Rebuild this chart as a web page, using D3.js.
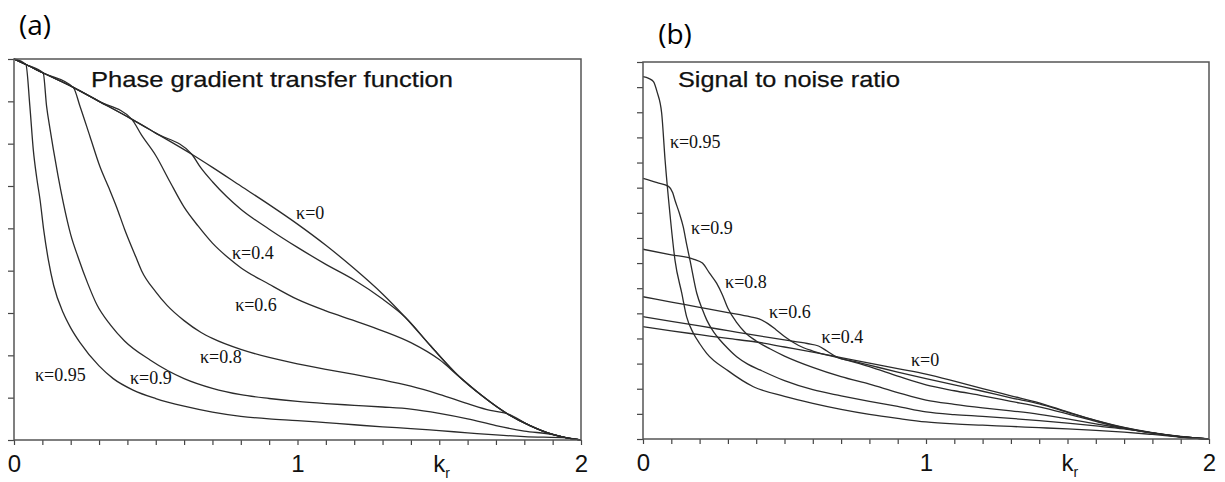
<!DOCTYPE html>
<html><head><meta charset="utf-8">
<script src="https://cdn.jsdelivr.net/npm/d3@7"></script>
<style>html,body{margin:0;padding:0;background:#fff;} svg{display:block;}</style>
</head><body><svg id="c" width="1225" height="482"></svg>
<script>
// ---------- DATA ----------
const kappas = ["0", "0.4", "0.6", "0.8", "0.9", "0.95"];
const xTickValues = d3.range(0, 21).map(i => i / 10);
const xTickLabels = ["0", "1", "2"];
const pgtfYTicks = d3.range(0, 10);
const snrYTicks = d3.range(0, 16);

// (a) Phase gradient transfer function  [k_r, value]
const pgtfK0 = [[0,9.0],[0.042,8.87],[0.103,8.67],[0.209,8.33],[0.3,8.0],[0.415,7.58],[0.5,7.25],[0.627,6.75],[0.7,6.44],[0.8,6.0],[0.9,5.56],[1.0,5.1],[1.1,4.6],[1.2,4.05],[1.3,3.45],[1.38,2.9],[1.47,2.22],[1.57,1.5],[1.65,1.05],[1.74,0.62],[1.82,0.34],[1.9,0.13],[1.95,0.05],[2.0,0]];
const pgtfK04 = [[0,9.0],[0.042,8.87],[0.103,8.67],[0.209,8.33],[0.3,8.0],[0.415,7.58],[0.5,7.25],[0.627,6.75],[0.66,6.42],[0.7,6.1],[0.75,5.75],[0.8,5.45],[0.9,4.98],[1.0,4.55],[1.1,4.15],[1.2,3.78],[1.3,3.33],[1.38,2.9],[1.47,2.22],[1.57,1.5],[1.65,1.05],[1.74,0.62],[1.82,0.34],[1.9,0.13],[1.95,0.05],[2.0,0]];
const pgtfK06 = [[0,9.0],[0.042,8.87],[0.103,8.67],[0.209,8.33],[0.3,8.0],[0.415,7.58],[0.45,7.2],[0.5,6.72],[0.55,6.1],[0.6,5.5],[0.65,5.05],[0.7,4.65],[0.76,4.28],[0.8,4.07],[0.9,3.68],[1.0,3.32],[1.1,3.05],[1.2,2.82],[1.3,2.58],[1.4,2.3],[1.5,1.9],[1.57,1.5],[1.65,1.05],[1.74,0.62],[1.82,0.34],[1.9,0.13],[1.95,0.05],[2.0,0]];
const pgtfK08 = [[0,9.0],[0.042,8.87],[0.103,8.67],[0.209,8.33],[0.233,7.88],[0.268,7.17],[0.303,6.46],[0.335,5.95],[0.362,5.5],[0.39,4.98],[0.43,4.32],[0.45,4.0],[0.5,3.5],[0.54,3.18],[0.6,2.82],[0.66,2.54],[0.7,2.4],[0.8,2.14],[0.9,1.95],[1.0,1.8],[1.1,1.67],[1.2,1.55],[1.3,1.42],[1.4,1.27],[1.5,1.08],[1.6,0.86],[1.68,0.7],[1.74,0.62],[1.82,0.34],[1.9,0.13],[1.95,0.05],[2.0,0]];
const pgtfK09 = [[0,9.0],[0.042,8.87],[0.103,8.67],[0.115,7.88],[0.127,7.35],[0.139,6.86],[0.155,6.25],[0.174,5.6],[0.2,4.85],[0.227,4.3],[0.26,3.7],[0.292,3.2],[0.34,2.72],[0.39,2.34],[0.48,1.89],[0.6,1.45],[0.7,1.22],[0.8,1.07],[0.9,0.98],[1.0,0.91],[1.1,0.86],[1.2,0.82],[1.3,0.78],[1.4,0.73],[1.5,0.63],[1.6,0.5],[1.7,0.34],[1.8,0.21],[1.9,0.13],[1.95,0.05],[2.0,0]];
const pgtfK095 = [[0,9.0],[0.042,8.87],[0.056,7.88],[0.068,6.86],[0.08,6.2],[0.092,5.67],[0.105,4.95],[0.121,4.26],[0.14,3.65],[0.174,3.0],[0.2,2.65],[0.233,2.3],[0.3,1.75],[0.35,1.45],[0.42,1.18],[0.5,0.98],[0.6,0.8],[0.7,0.66],[0.8,0.56],[0.9,0.5],[1.0,0.46],[1.1,0.41],[1.2,0.36],[1.3,0.31],[1.4,0.27],[1.5,0.22],[1.6,0.17],[1.7,0.12],[1.8,0.08],[1.95,0.05],[2.0,0]];

// (b) Signal to noise ratio  [k_r, value]
const snrK0 = [[0,4.47],[0.1,4.3],[0.2,4.15],[0.3,4.0],[0.4,3.86],[0.5,3.66],[0.6,3.46],[0.7,3.24],[0.8,3.02],[0.9,2.8],[1.0,2.58],[1.1,2.3],[1.2,2.0],[1.3,1.72],[1.4,1.44],[1.5,1.08],[1.6,0.74],[1.7,0.46],[1.8,0.25],[1.9,0.1],[2.0,0]];
const snrK04 = [[0,4.87],[0.1,4.68],[0.2,4.5],[0.3,4.31],[0.4,4.12],[0.5,3.94],[0.58,3.8],[0.62,3.7],[0.65,3.5],[0.683,3.27],[0.75,3.08],[0.8,2.94],[0.9,2.66],[1.0,2.4],[1.1,2.15],[1.2,1.9],[1.3,1.64],[1.4,1.4],[1.5,1.06],[1.6,0.73],[1.7,0.45],[1.8,0.24],[1.9,0.09],[2.0,0]];
const snrK06 = [[0,5.66],[0.1,5.45],[0.2,5.24],[0.3,5.03],[0.38,4.86],[0.41,4.78],[0.44,4.6],[0.47,4.35],[0.5,4.08],[0.55,3.72],[0.6,3.5],[0.7,3.2],[0.8,2.88],[0.9,2.5],[1.0,2.15],[1.1,1.92],[1.2,1.72],[1.3,1.5],[1.4,1.28],[1.5,1.0],[1.6,0.7],[1.7,0.43],[1.8,0.23],[1.9,0.08],[2.0,0]];
const snrK08 = [[0,7.55],[0.1,7.33],[0.18,7.15],[0.21,7.0],[0.235,6.6],[0.26,6.2],[0.28,5.75],[0.3,5.2],[0.33,4.65],[0.36,4.25],[0.4,3.9],[0.45,3.58],[0.5,3.3],[0.6,2.85],[0.7,2.48],[0.8,2.18],[0.9,1.85],[1.0,1.55],[1.1,1.38],[1.2,1.24],[1.3,1.12],[1.4,0.98],[1.5,0.8],[1.6,0.6],[1.7,0.42],[1.8,0.24],[1.9,0.09],[2.0,0]];
const snrK09 = [[0,10.37],[0.05,10.2],[0.09,10.05],[0.105,9.8],[0.113,9.5],[0.128,9.0],[0.142,8.45],[0.155,7.7],[0.166,7.12],[0.19,5.8],[0.21,5.15],[0.225,4.74],[0.25,4.25],[0.272,3.94],[0.3,3.6],[0.331,3.27],[0.37,2.98],[0.413,2.75],[0.5,2.32],[0.6,1.96],[0.7,1.72],[0.8,1.5],[0.9,1.3],[1.0,1.08],[1.1,0.97],[1.2,0.9],[1.3,0.82],[1.4,0.73],[1.5,0.63],[1.6,0.52],[1.7,0.4],[1.8,0.24],[1.9,0.09],[2.0,0]];
const snrK095 = [[0,14.42],[0.02,14.35],[0.037,14.22],[0.05,13.8],[0.066,12.96],[0.078,11.1],[0.095,8.98],[0.113,7.12],[0.137,5.8],[0.154,4.87],[0.178,4.21],[0.2,3.8],[0.225,3.41],[0.3,2.72],[0.39,2.08],[0.5,1.7],[0.6,1.42],[0.7,1.18],[0.8,0.98],[0.9,0.82],[1.0,0.68],[1.1,0.6],[1.2,0.55],[1.3,0.5],[1.4,0.45],[1.5,0.4],[1.6,0.34],[1.7,0.27],[1.8,0.18],[1.9,0.08],[2.0,0]];

// curve-label anchors (data units, same order as kappas)
const pgtfLabelAt = [[0.995,5.37],[0.769,4.42],[0.78,3.19],[0.656,1.96],[0.409,1.47],[0.074,1.54]];
const snrLabelAt = [[0.947,3.14],[0.631,4.07],[0.445,5.06],[0.29,6.26],[0.17,8.4],[0.095,11.83]];

// ---------- DRAW ----------
const svg = d3.select("#c");
svg.append("rect").attr("width",1225).attr("height",482).attr("fill","#fff");

const panels = [
  {tag:"(a)", tagX:35, tagY:35, title:"Phase gradient transfer function", titleX:91, titleLen:362,
   left:14, right:581, top:59, bottom:440, ymax:9, yTicks:pgtfYTicks,
   series:[pgtfK0,pgtfK04,pgtfK06,pgtfK08,pgtfK09,pgtfK095], labels:pgtfLabelAt},
  {tag:"(b)", tagX:675, tagY:44, title:"Signal to noise ratio", titleX:678, titleLen:222,
   left:643, right:1209, top:62, bottom:439, ymax:15, yTicks:snrYTicks,
   series:[snrK0,snrK04,snrK06,snrK08,snrK09,snrK095], labels:snrLabelAt}
];

const ink = "#2b2b2b";
panels.forEach(p => {
  const x = d3.scaleLinear().domain([0,2]).range([p.left,p.right]);
  const y = d3.scaleLinear().domain([0,p.ymax]).range([p.bottom,p.top]);
  const g = svg.append("g");

  const line = d3.line().x(d => x(d[0])).y(d => y(d[1])).curve(d3.curveMonotoneX);
  g.selectAll("path.curve").data(p.series).join("path")
    .attr("class","curve").attr("d", line)
    .attr("fill","none").attr("stroke",ink).attr("stroke-width",1.3);

  // axes
  const xa = g.append("g").attr("transform",`translate(0,${p.bottom})`)
    .call(d3.axisBottom(x).tickValues(xTickValues).tickSize(5).tickPadding(10)
      .tickFormat(d => Number.isInteger(d) ? xTickLabels[d] : ""));
  const ya = g.append("g").attr("transform",`translate(${p.left},0)`)
    .call(d3.axisLeft(y).tickValues(p.yTicks).tickSize(6).tickFormat(""));
  [xa,ya].forEach(a => {
    a.select(".domain").remove();
    a.selectAll("line").attr("stroke","#444").attr("stroke-width",1.2);
    a.selectAll("text").attr("font-family","'Liberation Sans', Arial, sans-serif")
      .attr("font-size",24).attr("fill","#111");
  });

  // frame
  g.append("rect").attr("x",p.left).attr("y",p.top)
    .attr("width",p.right-p.left).attr("height",p.bottom-p.top)
    .attr("fill","none").attr("stroke","#555").attr("stroke-width",1.5);

  // k_r label
  const kr = g.append("text").attr("x", x(1.5)-6).attr("y", p.bottom+32)
    .attr("font-family","'Liberation Sans', Arial, sans-serif").attr("font-size",24).attr("fill","#111");
  kr.append("tspan").text("k");
  kr.append("tspan").text("r").attr("font-size",14).attr("dy",6);

  // title
  g.append("text").attr("x",p.titleX).attr("y",87).text(p.title)
    .attr("font-family","'Liberation Sans', Arial, sans-serif").attr("font-size",22)
    .attr("fill","#111").attr("stroke","#111").attr("stroke-width",0.25)
    .attr("textLength",p.titleLen).attr("lengthAdjust","spacingAndGlyphs");

  // panel tag
  g.append("text").attr("x",p.tagX).attr("y",p.tagY).attr("text-anchor","middle").text(p.tag)
    .attr("font-family","'Open Sans', sans-serif").attr("font-size",28).attr("fill","#000");

  // curve labels
  g.selectAll("text.klab").data(p.labels).join("text").attr("class","klab")
    .attr("x", d => x(d[0])).attr("y", d => y(d[1])).attr("dy","0.35em")
    .text((d,i) => "κ=" + kappas[i])
    .attr("font-family","'Liberation Serif', 'Times New Roman', serif").attr("font-size",18)
    .attr("fill","#111");
});
</script></body></html>
